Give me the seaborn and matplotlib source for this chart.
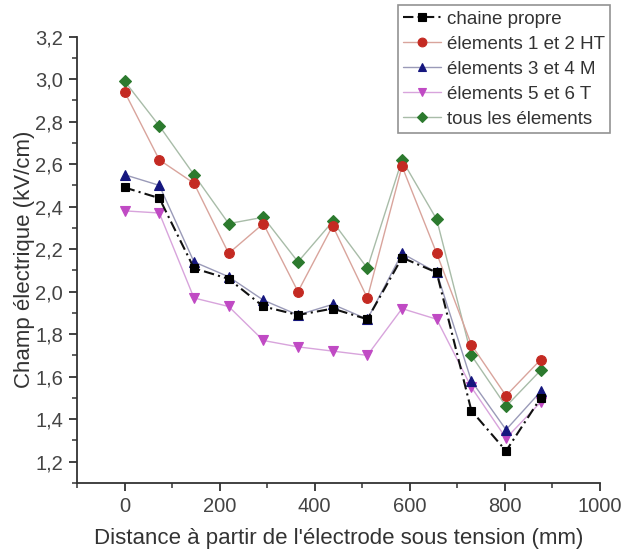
import matplotlib
matplotlib.use("Agg")
import matplotlib.pyplot as plt
from matplotlib.ticker import MultipleLocator, FuncFormatter
import seaborn as sns
import pandas as pd

sns.set_style("ticks")
plt.rcParams["font.family"] = ["Liberation Sans", "DejaVu Sans"]

# Distance from the energized electrode (mm)
distance = [0, 73, 146, 219, 292, 365, 438, 511, 584, 657, 730, 803, 876]

chaine_propre = [2.49, 2.44, 2.11, 2.06, 1.93, 1.89, 1.92, 1.87, 2.16, 2.09, 1.44, 1.25, 1.50]
elements_1_2_ht = [2.94, 2.62, 2.51, 2.18, 2.32, 2.00, 2.31, 1.97, 2.59, 2.18, 1.75, 1.51, 1.68]
elements_3_4_m = [2.55, 2.50, 2.14, 2.07, 1.96, 1.89, 1.94, 1.87, 2.18, 2.09, 1.58, 1.35, 1.53]
elements_5_6_t = [2.38, 2.37, 1.97, 1.93, 1.77, 1.74, 1.72, 1.70, 1.92, 1.87, 1.55, 1.31, 1.48]
tous_elements = [2.99, 2.78, 2.55, 2.32, 2.35, 2.14, 2.33, 2.11, 2.62, 2.34, 1.70, 1.46, 1.63]

series_names = ["chaine propre", "élements 1 et 2 HT", "élements 3 et 4 M",
                "élements 5 et 6 T", "tous les élements"]
series_values = [chaine_propre, elements_1_2_ht, elements_3_4_m, elements_5_6_t, tous_elements]

styles = {
    "chaine propre": dict(marker="s", mfc="#000000", line="#111111", ls=(0, (5, 2, 1, 2)), lw=1.5, ms=6),
    "élements 1 et 2 HT": dict(marker="o", mfc="#c42a22", line="#d9a49c", ls="-", lw=1.0, ms=7),
    "élements 3 et 4 M": dict(marker="^", mfc="#15167e", line="#9a9ab8", ls="-", lw=1.0, ms=7),
    "élements 5 et 6 T": dict(marker="v", mfc="#c04ac4", line="#d8a4dc", ls="-", lw=1.0, ms=7),
    "tous les élements": dict(marker="D", mfc="#2c7a2e", line="#a8bca8", ls="-", lw=1.0, ms=6),
}

df = pd.concat(
    [pd.DataFrame({"distance": distance, "champ": vals, "serie": name})
     for name, vals in zip(series_names, series_values)],
    ignore_index=True,
)

fig = plt.figure(figsize=(6.22, 5.55), dpi=100)
ax = fig.add_axes([0.124, 0.130, 0.840, 0.804])

draw_order = ["tous les élements", "élements 1 et 2 HT", "élements 5 et 6 T",
              "élements 3 et 4 M", "chaine propre"]
for name in draw_order:
    st = styles[name]
    sub = df[df["serie"] == name]
    sns.lineplot(data=sub, x="distance", y="champ", ax=ax, color=st["line"],
                 linestyle=st["ls"], linewidth=st["lw"], marker=st["marker"],
                 markersize=st["ms"], markerfacecolor=st["mfc"], markeredgecolor=st["mfc"],
                 markeredgewidth=0.8, label=name, zorder=3)

ax.set_xlim(-100, 1000)
ax.set_ylim(1.1, 3.2)
ax.xaxis.set_major_locator(MultipleLocator(200))
ax.xaxis.set_minor_locator(MultipleLocator(100))
ax.yaxis.set_minor_locator(MultipleLocator(0.1))
ax.set_yticks([1.2, 1.4, 1.6, 1.8, 2.0, 2.2, 2.4, 2.6, 2.8, 3.0, 3.2])
ax.yaxis.set_major_formatter(FuncFormatter(lambda v, p: f"{v:.1f}".replace(".", ",")))

sns.despine(ax=ax)
for sp in ("left", "bottom"):
    ax.spines[sp].set_linewidth(1.3)
    ax.spines[sp].set_color("#333333")
ax.tick_params(which="major", direction="out", length=6, width=1.3, colors="#333333",
               labelsize=14.5, labelcolor="#444444", pad=4)
ax.tick_params(which="minor", direction="out", length=3.5, width=1.1, colors="#333333")

ax.set_xlabel("Distance à partir de l'électrode sous tension (mm)", fontsize=16,
              color="#333333", labelpad=9)
ax.set_ylabel("Champ électrique (kV/cm)", fontsize=16, color="#333333", labelpad=0)

handles, labels = ax.get_legend_handles_labels()
order = [labels.index(n) for n in series_names]
if ax.get_legend():
    ax.get_legend().remove()
leg = fig.legend([handles[i] for i in order], [labels[i] for i in order],
                 loc="upper right", bbox_to_anchor=(0.981, 0.991), fontsize=13.5,
                 frameon=True, fancybox=False, edgecolor="#777777",
                 handlelength=2.0, handletextpad=0.3, borderpad=0.3, labelspacing=0.42,
                 borderaxespad=0.0, markerscale=0.9)
leg.get_frame().set_linewidth(1.2)
for t in leg.get_texts():
    t.set_color("#333333")

fig.savefig("out.png", dpi=100)
